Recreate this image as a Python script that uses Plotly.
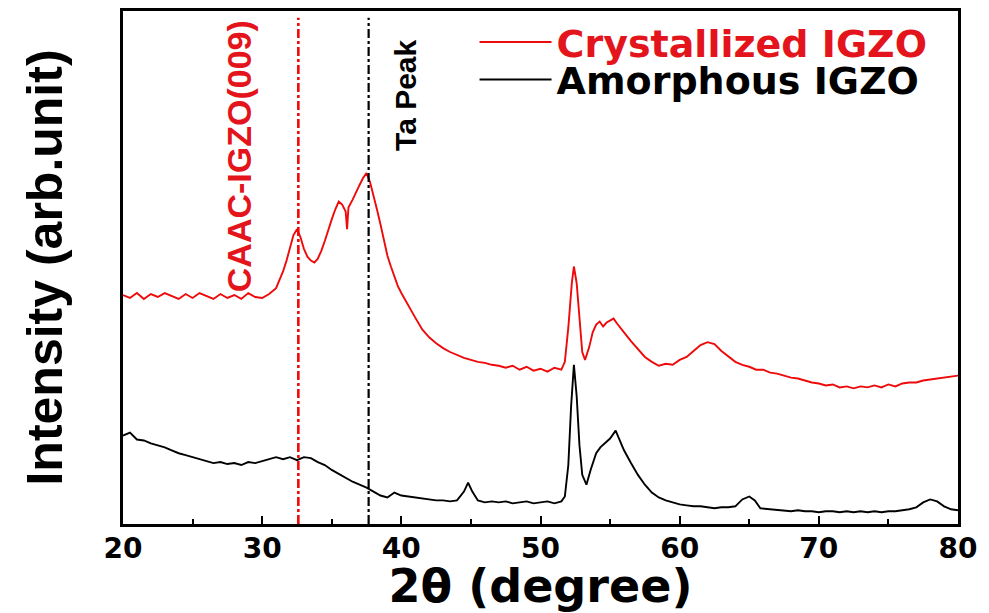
import plotly.graph_objects as go

# ---- data (intensity in arbitrary units) ----
two_theta_cryst = [20.0, 20.5, 21.0, 21.5, 22.0, 22.5, 23.0, 23.5, 24.0, 24.5, 25.0, 25.5, 26.0, 26.5,
                   27.0, 27.5, 28.0, 28.5, 29.0, 29.5, 30.0, 30.5, 31.0, 31.25, 31.5, 31.75, 32.0, 32.25,
                   32.5, 32.75, 33.0, 33.25, 33.5, 33.75, 34.0, 34.25, 34.5, 34.75, 35.0, 35.25, 35.5,
                   35.75, 36.0, 36.1, 36.2, 36.5, 36.75, 37.0, 37.25, 37.5, 37.75, 38.0, 38.25, 38.5,
                   38.75, 39.0, 39.25, 39.5, 39.75, 40.0, 40.5, 41.0, 41.5, 42.0, 42.5, 43.0, 43.5, 44.0,
                   44.5, 45.0, 45.5, 46.0, 46.5, 47.0, 47.5, 48.0, 48.5, 49.0, 49.5, 50.0, 50.5, 51.0,
                   51.5, 51.75, 52.0, 52.25, 52.4, 52.6, 52.8, 53.0, 53.2, 53.5, 53.75, 54.0, 54.25, 54.5,
                   54.75, 55.0, 55.25, 55.5, 55.75, 56.0, 56.5, 57.0, 57.5, 58.0, 58.5, 59.0, 59.5, 60.0,
                   60.5, 61.0, 61.5, 62.0, 62.5, 63.0, 63.5, 64.0, 64.5, 65.0, 65.5, 66.0, 66.5, 67.0,
                   67.5, 68.0, 68.5, 69.0, 69.5, 70.0, 70.5, 71.0, 71.5, 72.0, 72.5, 73.0, 73.5, 74.0,
                   74.5, 75.0, 75.5, 76.0, 76.5, 77.0, 77.5, 78.0, 78.5, 79.0, 79.5, 80.0]
intensity_cryst = [233, 230, 235, 229, 234, 231, 235, 232, 229, 234, 230, 235, 232, 229,
                   234, 230, 233, 229, 235, 231, 230, 234, 240, 248, 257, 268, 282, 294,
                   300, 292, 280, 272, 268, 266, 270, 278, 288, 300, 310, 320, 328,
                   325, 318, 300, 322, 330, 338, 345, 352, 357, 348, 335, 320, 305,
                   288, 273, 262, 252, 242, 235, 222, 210, 198, 190, 184, 179, 175, 172,
                   169, 167, 165, 164, 162, 161, 159, 161, 157, 160, 156, 158, 155, 159,
                   157, 165, 200, 245, 262, 245, 205, 175, 167, 180, 195, 203, 206, 201,
                   205, 207, 209, 204, 200, 195, 186, 178, 170, 165, 161, 163, 162, 167,
                   170, 176, 182, 185, 183, 176, 170, 165, 162, 160, 157, 157, 154, 153,
                   151, 149, 148, 146, 144, 143, 141, 142, 139, 140, 138, 140, 139, 141,
                   139, 142, 140, 143, 144, 144, 146, 147, 148, 149, 150, 151]

two_theta_amor = [20.0, 20.5, 21.0, 21.5, 22.0, 22.5, 23.0, 23.5, 24.0, 24.5, 25.0, 25.5, 26.0, 26.5,
                  27.0, 27.5, 28.0, 28.5, 29.0, 29.5, 30.0, 30.5, 31.0, 31.5, 32.0, 32.5, 33.0, 33.5,
                  34.0, 34.5, 35.0, 35.5, 36.0, 36.5, 37.0, 37.5, 38.0, 38.5, 39.0, 39.5, 40.0, 40.5,
                  41.0, 41.5, 42.0, 42.5, 43.0, 43.5, 44.0, 44.5, 44.8, 45.1, 45.5, 46.0, 46.5, 47.0,
                  47.5, 48.0, 48.5, 49.0, 49.5, 50.0, 50.5, 51.0, 51.5, 51.75, 52.0, 52.2, 52.4, 52.6,
                  52.8, 53.0, 53.3, 53.6, 54.0, 54.3, 54.6, 55.0, 55.4, 55.7, 56.0, 56.5, 57.0, 57.5,
                  58.0, 58.5, 59.0, 59.5, 60.0, 60.5, 61.0, 61.5, 62.0, 62.5, 63.0, 63.5, 64.0, 64.5,
                  65.0, 65.4, 65.8, 66.5, 67.0, 67.5, 68.0, 68.5, 69.0, 69.5, 70.0, 70.5, 71.0, 71.5,
                  72.0, 72.5, 73.0, 73.5, 74.0, 74.5, 75.0, 75.5, 76.0, 76.5, 77.0, 77.5, 78.0, 78.5,
                  79.0, 79.5, 80.0]
intensity_amor = [90, 93, 86, 85, 82, 80, 78, 75, 72, 70, 68, 66, 64, 62,
                  63, 61, 62, 60, 63, 62, 64, 66, 68, 66, 68, 65, 68, 67,
                  63, 60, 55, 51, 47, 43, 40, 37, 33, 29, 27, 32, 29, 28,
                  27, 26, 25, 24, 24, 23, 24, 33, 42, 33, 24, 22, 23, 22,
                  23, 21, 22, 23, 21, 22, 23, 21, 23, 28, 60, 120, 162, 130,
                  80, 50, 40, 55, 72, 78, 82, 87, 95, 85, 75, 62, 50, 40,
                  32, 27, 24, 22, 20, 19, 18, 18, 17, 16, 17, 17, 18, 25,
                  28, 24, 16, 15, 14, 14, 13, 14, 13, 13, 12, 13, 13, 12,
                  13, 12, 13, 12, 13, 12, 13, 13, 14, 15, 17, 22, 25, 23,
                  18, 15, 14]

marker_positions = [32.6, 37.65]
marker_labels = ["CAAC-IGZO(009)", "Ta Peak"]
label_positions = [28.3, 40.25]
series_names = ["Crystallized IGZO", "Amorphous IGZO"]
x_ticks = [20, 30, 40, 50, 60, 70, 80]

RED = "#ee0a0a"
RED_TXT = "#e3141b"

fig = go.Figure()
fig.add_trace(go.Scatter(
    x=two_theta_cryst, y=intensity_cryst, mode="lines", showlegend=True,
    line=dict(color=RED, width=1.9), name=series_names[0], legend="legend"))
fig.add_trace(go.Scatter(
    x=two_theta_amor, y=intensity_amor, mode="lines", showlegend=True,
    line=dict(color="black", width=1.9), name=series_names[1], legend="legend2"))

# vertical reference lines
fig.add_shape(type="line", xref="x", yref="paper", x0=marker_positions[0], x1=marker_positions[0],
              y0=0, y1=0.987, line=dict(color=RED, width=2.6, dash="dashdot"), layer="above")
fig.add_shape(type="line", xref="x", yref="paper", x0=marker_positions[1], x1=marker_positions[1],
              y0=0, y1=0.987, line=dict(color="black", width=2.2, dash="dashdot"), layer="above")

fig.add_annotation(x=label_positions[0], xref="x", y=0.716, yref="paper", yanchor="middle", xanchor="center",
                   text=marker_labels[0], textangle=-90, showarrow=False,
                   font=dict(family="Liberation Sans", size=34, color=RED_TXT, weight="bold"))
fig.add_annotation(x=label_positions[1], xref="x", y=0.836, yref="paper", yanchor="middle", xanchor="center",
                   text=marker_labels[1], textangle=-90, showarrow=False,
                   font=dict(family="Liberation Sans", size=30, color="black", weight="bold"))

fig.update_layout(
    width=989, height=613,
    showlegend=True,
    margin=dict(l=123, r=31, t=8, b=83),
    paper_bgcolor="white", plot_bgcolor="white",
    font=dict(family="DejaVu Sans", color="black"),
    legend=dict(x=0.421, y=0.939, xanchor="left", yanchor="middle", bgcolor="rgba(0,0,0,0)",
                font=dict(family="DejaVu Sans", size=38, color=RED_TXT, weight="bold"),
                itemwidth=72, tracegroupgap=0),
    legend2=dict(x=0.421, y=0.866, xanchor="left", yanchor="middle", bgcolor="rgba(0,0,0,0)",
                 font=dict(family="DejaVu Sans", size=38, color="black", weight="bold"),
                 itemwidth=72, tracegroupgap=0),
    xaxis=dict(range=[20, 80], tickmode="array", tickvals=x_ticks, ticktext=[str(t) for t in x_ticks],
               ticks="inside", ticklen=8, tickwidth=2, tickcolor="black",
               minor=dict(dtick=5, tick0=25, ticks="inside", ticklen=5, tickwidth=2, tickcolor="black"),
               showline=True, linewidth=3, linecolor="black", mirror=True,
               showgrid=False, zeroline=False, ticklabelstandoff=-3,
               tickfont=dict(family="DejaVu Sans", size=28, color="black", weight="bold"),
               title=dict(text="2θ (degree)", standoff=8,
                          font=dict(family="DejaVu Sans", size=46, color="black", weight="bold"))),
    yaxis=dict(range=[0, 522], showticklabels=False, ticks="",
               showline=True, linewidth=3, linecolor="black", mirror=True,
               showgrid=False, zeroline=False,
               title=dict(text="Intensity (arb.unit)", standoff=42,
                          font=dict(family="Liberation Sans", size=50, color="black", weight="bold"))),
)

fig.write_html("out.html")
